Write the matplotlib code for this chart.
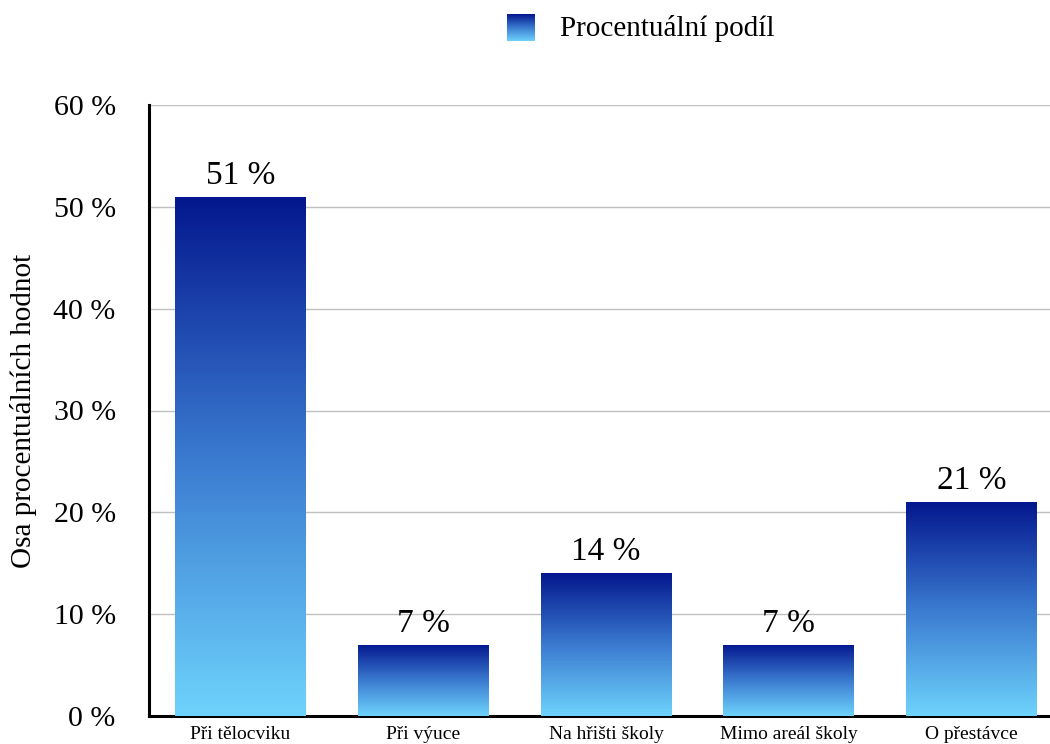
import numpy as np
import matplotlib
matplotlib.use("Agg")
import matplotlib.pyplot as plt
from matplotlib.colors import LinearSegmentedColormap

categories = ["Při tělocviku", "Při výuce", "Na hřišti školy", "Mimo areál školy", "O přestávce"]
values = [51, 7, 14, 7, 21]
yticks = [0, 10, 20, 30, 40, 50, 60]
series_name = "Procentuální podíl"
ylabel = "Osa procentuálních hodnot"

plt.rcParams['font.family'] = ['Liberation Serif', 'DejaVu Serif']

cmap = LinearSegmentedColormap.from_list("g", ["#6ed3fc", "#3a7ad0", "#04178e"])
grad = np.linspace(0, 1, 256).reshape(-1, 1)

fig = plt.figure(figsize=(10.5, 7.44), dpi=100)
ax = fig.add_axes([149/1050, 1-716/744, 914/1050, 611/744])

x = np.arange(len(categories))
width = 0.715
bars = ax.bar(x, values, width=width, color="none", zorder=3)
for b in bars:
    x0, y0 = b.get_x(), b.get_y()
    w, h = b.get_width(), b.get_height()
    im = ax.imshow(grad, cmap=cmap, origin="lower", aspect="auto",
                   extent=(x0, x0 + w, y0, y0 + h), zorder=3)
    im.set_clip_path(b)
for xi, v in zip(x, values):
    ax.text(xi, v + 0.6, f"{v} %", ha="center", va="bottom", fontsize=24)

ax.set_xlim(-0.5, len(categories) - 0.5)
ax.set_ylim(0, 60)
ax.set_yticks(yticks)
ax.set_yticklabels([f"{t} %" for t in yticks], fontsize=21.5)
ax.set_xticks(x)
ax.set_xticklabels(categories, fontsize=14)
ax.tick_params(axis="y", length=0, pad=24)
ax.tick_params(axis="x", length=0, pad=7)
ax.yaxis.grid(True, color="#c0c0c0", lw=1, zorder=0)
ax.set_axisbelow(True)
for s in ["top", "right"]:
    ax.spines[s].set_visible(False)
for s in ["left", "bottom"]:
    ax.spines[s].set_linewidth(2.2)
    ax.spines[s].set_color("black")
ax.set_ylabel(ylabel, fontsize=21, labelpad=12)

# legend
lax = fig.add_axes([507/1050, 1-41/744, 28/1050, 27/744])
lax.imshow(grad, cmap=cmap, origin="lower", aspect="auto")
lax.axis("off")
fig.text(560/1050, 1-28/744, series_name, fontsize=21, ha="left", va="center")

fig.savefig("out.png", dpi=100)
